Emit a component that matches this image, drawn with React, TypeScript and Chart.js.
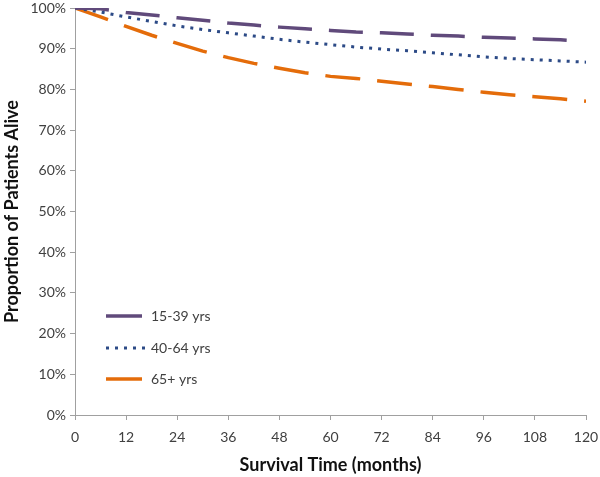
import { useEffect, useRef } from "react";
import { Chart, registerables } from "chart.js";

Chart.register(...registerables);

// months since diagnosis
const months = [0, 6, 12, 18, 24, 30, 36, 42, 48, 54, 60, 66, 72, 78, 84, 90, 96, 102, 108, 114, 120];

// proportion alive (%)
const young = [100, 99.8, 98.9, 98.3, 97.6, 97.0, 96.3, 95.8, 95.3, 94.9, 94.5, 94.1, 93.9, 93.6, 93.3, 93.1, 92.8, 92.6, 92.4, 92.2, 92.0];
const middle = [100, 99.0, 97.8, 96.7, 95.6, 94.7, 93.9, 93.1, 92.3, 91.6, 91.0, 90.4, 89.9, 89.5, 89.0, 88.5, 88.0, 87.6, 87.3, 87.0, 86.7];
const older = [100, 97.8, 95.5, 93.3, 91.3, 89.4, 87.8, 86.4, 85.2, 84.1, 83.2, 82.7, 82.0, 81.3, 80.7, 80.0, 79.3, 78.7, 78.2, 77.7, 77.1];

const seriesLabels = ["15-39 yrs", "40-64 yrs", "65+ yrs"];
const youngLastMonth = 117;

const FONT = "Lato, 'Open Sans', sans-serif";
const TEXT = "#404040";
const AXIS = "#a0a0a0";

// keep tick labels from pushing the plot area inwards
const noOverflow = (s: any) => {
  s.paddingTop = 0;
  s.paddingBottom = 0;
  s.paddingLeft = 0;
  s.paddingRight = 0;
};

const legendInside = {
  id: "legendInside",
  afterDraw(chart: Chart) {
    const ctx = chart.ctx;
    const rows = [316, 348, 379];
    ctx.save();
    chart.data.datasets.forEach((ds: any, i: number) => {
      const y = rows[i];
      ctx.beginPath();
      ctx.strokeStyle = ds.borderColor;
      ctx.lineWidth = ds.borderWidth;
      ctx.setLineDash(i === 1 ? ds.borderDash : []);
      ctx.moveTo(106, y);
      ctx.lineTo(i === 1 ? 146 : 142, y);
      ctx.stroke();
      ctx.setLineDash([]);
      ctx.fillStyle = TEXT;
      ctx.font = `14px ${FONT}`;
      ctx.textBaseline = "middle";
      ctx.fillText(ds.label, 151, y);
    });
    ctx.restore();
  },
};

export default function App() {
  const canvasRef = useRef<HTMLCanvasElement | null>(null);
  const chartRef = useRef<Chart | null>(null);

  useEffect(() => {
    document.body.style.margin = "0";
    if (!canvasRef.current) return;
    chartRef.current?.destroy();

    const pts = (vals: number[]) => months.map((m, i) => ({ x: m, y: vals[i] / 100 }));
    const youngPts = pts(young);
    youngPts[youngPts.length - 1].x = youngLastMonth;

    chartRef.current = new Chart(canvasRef.current, {
      type: "line",
      data: {
        datasets: [
          {
            label: seriesLabels[0],
            data: youngPts,
            borderColor: "#604a7b",
            borderWidth: 3.5,
            borderDash: [34, 17],
            pointRadius: 0,
            tension: 0,
          },
          {
            label: seriesLabels[1],
            data: pts(middle),
            borderColor: "#2c4a86",
            borderWidth: 3,
            borderDash: [3, 6],
            pointRadius: 0,
            tension: 0,
          },
          {
            label: seriesLabels[2],
            data: pts(older),
            borderColor: "#e46c0a",
            borderWidth: 3.5,
            borderDash: [35, 17],
            pointRadius: 0,
            tension: 0,
          },
        ],
      },
      options: {
        responsive: false,
        animation: false,
        layout: { padding: { top: 8, right: 14, left: 0, bottom: 0 } },
        plugins: {
          legend: { display: false },
          tooltip: { enabled: false },
        },
        scales: {
          x: {
            type: "linear",
            min: 0,
            max: 120,
            afterFit: (s: any) => {
              s.height = 62;
              noOverflow(s);
            },
            ticks: {
              stepSize: 12,
              color: TEXT,
              font: { family: FONT, size: 14 },
              padding: 9,
              maxRotation: 0,
            },
            grid: {
              drawOnChartArea: false,
              drawTicks: true,
              tickLength: 5,
              color: AXIS,
            },
            border: { color: AXIS, width: 1 },
            title: {
              display: true,
              text: "Survival Time (months)",
              color: "#111",
              font: { family: FONT, size: 18, weight: "bold" },
              padding: { top: 4, bottom: 1 },
            },
          },
          y: {
            min: 0,
            max: 1,
            afterFit: (s: any) => {
              s.width = 75;
              noOverflow(s);
            },
            ticks: {
              stepSize: 0.1,
              color: TEXT,
              font: { family: FONT, size: 14 },
              padding: 4,
              callback: (v: any) => `${Math.round(Number(v) * 100)}%`,
            },
            grid: {
              drawOnChartArea: false,
              drawTicks: true,
              tickLength: 5,
              color: AXIS,
            },
            border: { color: AXIS, width: 1 },
            title: {
              display: true,
              text: "Proportion of Patients Alive",
              color: "#111",
              font: { family: FONT, size: 18, weight: "bold" },
              padding: { top: 1, bottom: 0 },
            },
          },
        },
      },
      plugins: [legendInside],
    });

    return () => {
      chartRef.current?.destroy();
      chartRef.current = null;
    };
  }, []);

  return (
    <div style={{ width: 600, height: 477, background: "#fff" }}>
      <canvas ref={canvasRef} width={600} height={477} style={{ width: 600, height: 477 }} />
    </div>
  );
}
